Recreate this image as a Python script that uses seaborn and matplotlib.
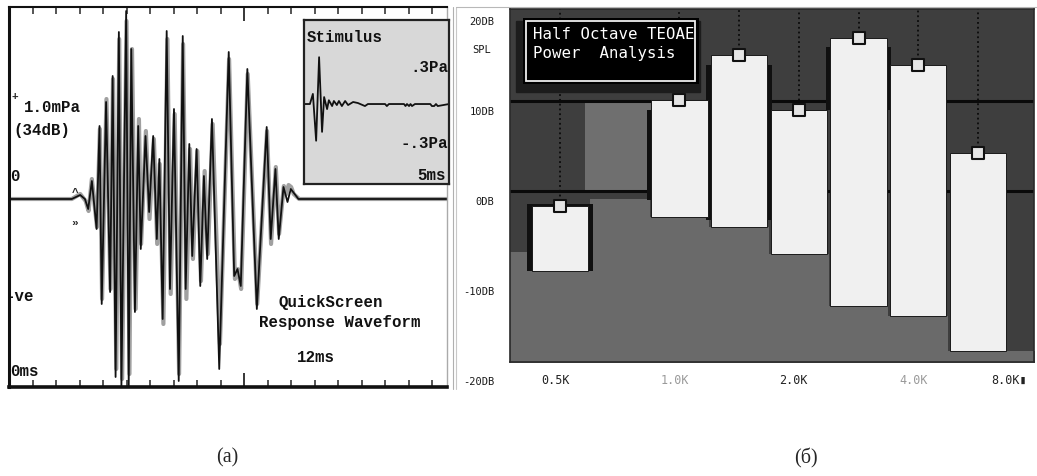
import numpy as np
import seaborn as sns
import matplotlib.pyplot as plt
from matplotlib import transforms
from matplotlib.patches import Rectangle
from matplotlib.lines import Line2D

# ---------------- (a) QuickScreen response waveform (ms, mPa) ----------------
resp_a_t = [0, 1.72, 1.95, 2.08, 2.17, 2.27, 2.40, 2.48, 2.54, 2.66, 2.77, 2.84, 2.92, 3.01,
            3.08, 3.21, 3.28, 3.35, 3.45, 3.54, 3.61, 3.74, 3.84, 3.95, 4.05, 4.12, 4.21, 4.32,
            4.41, 4.52, 4.65, 4.76, 4.84, 4.94, 5.02, 5.14, 5.24, 5.34, 5.43, 5.56, 5.76, 6.02,
            6.17, 6.26, 6.35, 6.53, 6.79, 7.06, 7.17, 7.30, 7.39, 7.52, 7.63, 7.72, 7.93, 12]
resp_a_amp = [0, 0, 0.04, 0, -0.10, 0.18, -0.30, 0.73, -1.05, 0.97, -0.93, 1.23, -1.78, 1.67,
              -1.87, 1.88, -1.87, 1.50, -1.13, 0.73, -0.50, 0.63, -0.13, 0.63, -0.40, 0.40, -1.20, 1.68,
              -0.90, 0.90, -1.82, 1.63, -0.90, 0.55, -0.57, 0.50, -0.87, 0.23, -0.60, 0.80, -1.70, 1.47,
              -0.77, -0.70, -0.87, 1.30, -1.10, 0.72, -0.40, 0.30, -0.40, 0.12, -0.03, 0.10, 0, 0]

resp_b_t = [0, 1.72, 1.95, 2.10, 2.18, 2.27, 2.41, 2.49, 2.55, 2.67, 2.78, 2.85, 2.94, 3.02,
            3.10, 3.22, 3.30, 3.37, 3.47, 3.56, 3.62, 3.75, 3.85, 3.97, 4.06, 4.13, 4.23, 4.34,
            4.43, 4.54, 4.66, 4.77, 4.86, 4.96, 5.04, 5.16, 5.26, 5.36, 5.45, 5.58, 5.78, 6.03,
            6.19, 6.27, 6.36, 6.54, 6.80, 7.07, 7.18, 7.31, 7.40, 7.53, 7.60, 7.66, 7.73, 7.80, 7.95, 12]
resp_b_amp = [0, 0, 0.05, -0.02, -0.12, 0.20, -0.28, 0.70, -1.00, 1.00, -0.90, 1.20, -1.70, 1.60,
              -1.80, 1.78, -1.75, 1.50, -1.10, 0.80, -0.45, 0.68, -0.20, 0.60, -0.45, 0.35, -1.25, 1.60,
              -0.95, 0.85, -1.75, 1.55, -1.00, 0.50, -0.60, 0.48, -0.82, 0.28, -0.55, 0.75, -1.45, 1.40,
              -0.80, -0.70, -0.90, 1.25, -1.05, 0.68, -0.45, 0.32, -0.35, 0.13, 0.05, 0.14, 0.12, 0.05, 0, 0]

# stimulus click (ms, Pa)
stim_t = [0, 0.20, 0.30, 0.41, 0.51, 0.61, 0.68, 0.78, 0.84, 0.95, 1.01, 1.11, 1.18, 1.28, 1.39,
          1.49, 1.66, 1.82, 2.06, 2.16, 2.74, 2.80, 2.87, 3.38, 3.43, 3.48, 3.55, 3.60, 3.65, 3.75,
          4.27, 4.32, 4.40, 4.46, 4.52, 4.9]
stim_amp = [0, 0, 0.08, -0.29, 0.37, -0.22, 0.055, -0.04, 0.03, -0.016, 0.024, -0.008, 0.024, -0.016, 0.024,
            -0.008, 0.016, 0.008, -0.016, 0, 0, -0.016, 0, 0, -0.016, 0, -0.016, 0, -0.016, 0,
            0, -0.016, -0.016, 0, -0.016, 0]

# ---------------- (b) half octave TEOAE power analysis (dB SPL) ----------------
band_idx = [0, 2, 3, 4, 5, 6, 7]
band_top = [-1.7, 10.1, 15.1, 9.0, 17.0, 14.0, 4.2]
band_bottom = [-8.9, -2.9, -4.0, -7.0, -12.8, -13.9, -17.8]
# dark "B" bars peeking out behind the white ones
shadow_idx = [0, 2, 3, 5]
shadow_top = [-1.5, 9.0, 14.0, 16.0]
shadow_bottom = [-8.9, -1.0, -3.2, 9.0]
noise_idx = [-1, 0, 1, 2, 3, 4, 5, 6, 7, 8]
noise_db = [-6.8, -6.8, -0.9, -2.9, -4.0, -7.0, -12.8, -13.9, -17.8, -17.8]
shade_idx = [1]
shade_lo = [0.0]
shade_hi = [10.0]
freq_pos = [0, 2, 4, 6, 7.6]
freq_labels = ['0.5K', '1.0K', '2.0K', '4.0K', '8.0K▮']
freq_colors = ['#222222', '#9a9a9a', '#222222', '#9a9a9a', '#222222']
db_ticks = [20, 10, 0, -10, -20]
db_labels = ['20DB', '10DB', '0DB', '-10DB', '-20DB']
grid_db = [10, 0]

W, H = 1037, 477


def rect(x0, y0, x1, y1):
    """ pixel box (from top-left) -> figure rect """
    return [x0 / W, 1 - y1 / H, (x1 - x0) / W, (y1 - y0) / H]


def ptext(x, y, s, **kw):
    fig.text(x / W, 1 - y / H, s, **kw)


sns.set_style('white')
plt.rcParams['font.family'] = ['DejaVu Sans', 'DejaVu Sans Mono']

fig = plt.figure(figsize=(W / 100, H / 100), dpi=100)
mono_a = dict(family='Liberation Mono', weight='bold', size=11.3, color='#111111')

# -------------- (a) waveform -----------------
ax = fig.add_axes(rect(9, 8, 447, 388))
sns.lineplot(x=resp_b_t, y=resp_b_amp, sort=False, estimator=None, color='#a0a0a0', lw=3.0, ax=ax)
sns.lineplot(x=resp_a_t, y=resp_a_amp, sort=False, estimator=None, color='#111111', lw=1.3, ax=ax)
ax.set_xlim(0, 12)
ax.set_ylim(-1.88, 1.92)
ax.set_yticks([])
tick_step = 0.644
ax.set_xticks([tick_step * 10])
ax.set_xticks([tick_step * k for k in range(1, 19) if k != 10], minor=True)
ax.tick_params(axis='x', which='major', direction='in', top=True, bottom=True, length=10, width=1.3,
               labelbottom=False)
ax.tick_params(axis='x', which='minor', direction='in', top=True, bottom=True, length=5, width=1.1)
for side, lw, c in [('left', 2.2, '#111111'), ('bottom', 2.6, '#111111'), ('top', 1.5, '#111111'),
                    ('right', 1.0, '#aaaaaa')]:
    ax.spines[side].set_visible(True)
    ax.spines[side].set_linewidth(lw)
    ax.spines[side].set_color(c)

ptext(12, 97, '+', family='Liberation Mono', weight='bold', size=8, va='center')
ptext(24, 107, '1.0mPa', va='center', **mono_a)
ptext(13, 130, '(34dB)', va='center', **mono_a)
ptext(10, 177, '0', va='center', **mono_a)
ptext(5, 297, '-ve', va='center', **mono_a)
ptext(10, 372, '0ms', va='center', **mono_a)
ptext(75, 193, '^', family='Liberation Mono', weight='bold', size=8, ha='center', va='center')
ptext(75, 223, '»', family='Liberation Mono', weight='bold', size=8, ha='center', va='center')
ptext(331, 302, 'QuickScreen', ha='center', va='center', **mono_a)
ptext(340, 322, 'Response Waveform', ha='center', va='center', **mono_a)
ptext(316, 358, '12ms', ha='center', va='center', **mono_a)

# stimulus inset
axs = fig.add_axes(rect(304, 21, 449, 185))
axs.set_facecolor('#d8d8d8')
sns.lineplot(x=stim_t, y=stim_amp, sort=False, estimator=None, color='#111111', lw=1.3, ax=axs)
axs.set_xlim(0, 4.9)
axs.set_ylim(-0.632, 0.664)
axs.set_yticks([])
axs.set_xticks([0.8, 1.6, 2.4, 3.2])
axs.tick_params(axis='x', direction='in', length=9, width=1, color='#555555', labelbottom=False)
for side in ['left', 'bottom', 'top', 'right']:
    axs.spines[side].set_visible(True)
    axs.spines[side].set_linewidth(1.6)
    axs.spines[side].set_color('#222222')
ptext(307, 37, 'Stimulus', va='center', **mono_a)
ptext(448, 68, '.3Pa', ha='right', va='center', **mono_a)
ptext(448, 143, '-.3Pa', ha='right', va='center', **mono_a)
ptext(446, 175, '5ms', ha='right', va='center', **mono_a)

# -------------- (b) power analysis -----------------
bx = fig.add_axes(rect(510, 10, 1034, 363))
bx.set_facecolor('#3e3e3e')
bx.set_xlim(-0.84, 7.94)
bx.set_ylim(-19.0, 20.2)
bx.bar(shade_idx, np.subtract(shade_hi, shade_lo), bottom=shade_lo, width=1.15,
       color='#6f6f6f', edgecolor='none', linewidth=0, zorder=1)
for g in grid_db:
    bx.axhline(g, color='#0a0a0a', lw=2.2, zorder=1.5)
bx.fill_between(noise_idx, -25, noise_db, step='mid', color='#6a6a6a', lw=0, zorder=2)
bx.vlines(band_idx, band_top, 20.2, colors='#0a0a0a', linestyles=':', lw=1.3, zorder=2.5)
bx.bar(shadow_idx, np.subtract(shadow_top, shadow_bottom), bottom=shadow_bottom, width=1.1,
       color='#101010', edgecolor='none', linewidth=0, zorder=2.8)
bx.bar(band_idx, np.subtract(band_top, band_bottom), bottom=band_bottom, width=0.94,
       color='#f0f0f0', edgecolor='#1a1a1a', linewidth=0.7, zorder=3)
sns.scatterplot(x=band_idx, y=band_top, marker='s', s=85, color='black', facecolor='#e4e4e4',
                edgecolor='#111111', linewidth=1.5, zorder=5, ax=bx)
bx.set_xticks([])
bx.set_yticks([])
for side in bx.spines.values():
    side.set_visible(True)
    side.set_color('#2a2a2a')
    side.set_linewidth(1.2)

# title box
bx.add_patch(Rectangle((0.012, 0.765), 0.35, 0.2, transform=bx.transAxes, color='#1c1c1c', zorder=6))
bx.add_patch(Rectangle((0.0248, 0.7875), 0.336, 0.187, transform=bx.transAxes, facecolor='black',
                       edgecolor='none', zorder=7))
bx.add_patch(Rectangle((0.031, 0.797), 0.323, 0.168, transform=bx.transAxes, facecolor='none',
                       edgecolor='#eeeeee', lw=1.3, zorder=8))
bx.text(0.043, 0.932, 'Half Octave TEOAE', transform=bx.transAxes, family='DejaVu Sans Mono',
        size=11.3, color='white', va='center', zorder=9)
bx.text(0.043, 0.878, 'Power  Analysis', transform=bx.transAxes, family='DejaVu Sans Mono',
        size=11.3, color='white', va='center', zorder=9)

# axis labels drawn like the instrument screen
ylab_tr = transforms.blended_transform_factory(bx.transAxes, bx.transData) + \
    transforms.ScaledTranslation(0, -10 / 100, fig.dpi_scale_trans)
for v, s in zip(db_ticks, db_labels):
    bx.text(-0.03, v, s, transform=ylab_tr, ha='right', va='center', family='DejaVu Sans Mono',
            size=7.5, color='#1a1a1a', clip_on=False)
ptext(491, 50, 'SPL', ha='right', va='center', family='DejaVu Sans Mono', size=7.5, color='#1a1a1a')

xlab_tr = transforms.blended_transform_factory(bx.transData, bx.transAxes) + \
    transforms.ScaledTranslation(-5 / 100, -17 / 100, fig.dpi_scale_trans)
for p, s, c in zip(freq_pos, freq_labels, freq_colors):
    bx.text(p, 0, s, transform=xlab_tr, ha='center', va='center', family='DejaVu Sans Mono',
            size=8.5, color=c, clip_on=False)

# screen frame lines of panel (b)
fig.add_artist(Line2D([453 / W, 453 / W], [1 - 8 / H, 1 - 390 / H], color='#b0b0b0', lw=0.8))
fig.add_artist(Line2D([456 / W, 456 / W], [1 - 8 / H, 1 - 390 / H], color='#c8c8c8', lw=0.8))
fig.add_artist(Line2D([456 / W, 1], [1 - 8 / H, 1 - 8 / H], color='#b8b8b8', lw=0.8))

# captions
ptext(227, 458, '(a)', ha='center', va='center', family='Liberation Serif', size=14.5)
ptext(806, 458, '(б)', ha='center', va='center', family='Liberation Serif', size=14.5)

plt.savefig('out.png', dpi=100)
